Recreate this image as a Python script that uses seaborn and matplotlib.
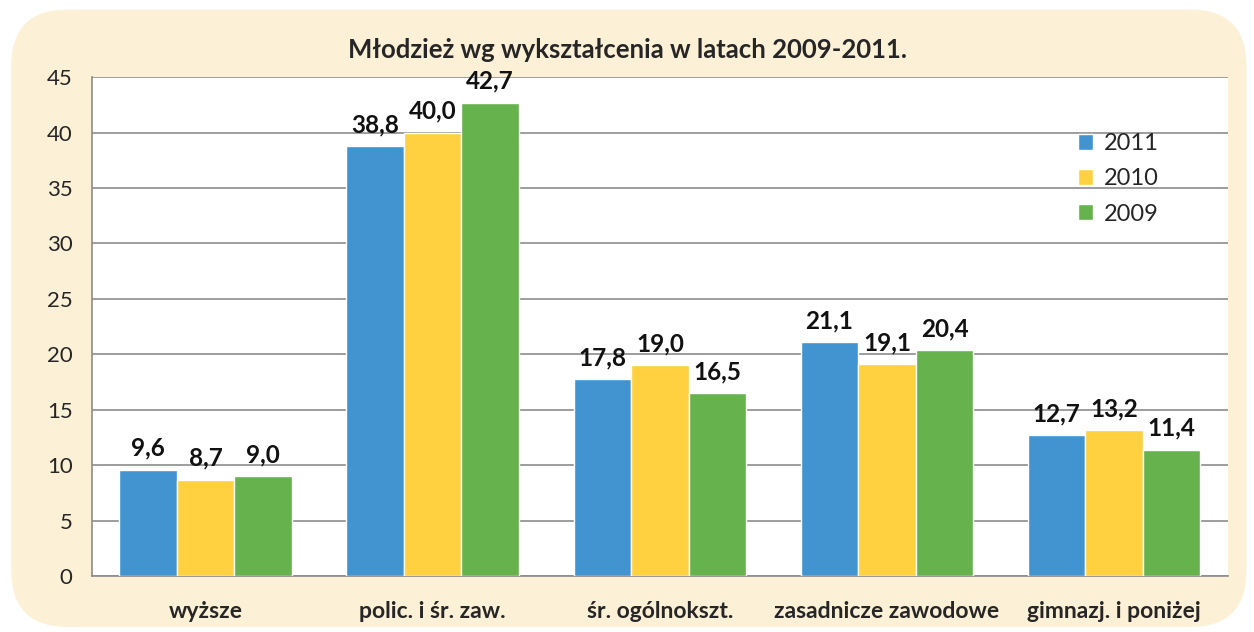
import numpy as np
import pandas as pd
import seaborn as sns
import matplotlib.pyplot as plt
from matplotlib.patches import FancyBboxPatch

kategorie = ['wyższe', 'polic. i śr. zaw.', 'śr. ogólnokszt.', 'zasadnicze zawodowe', 'gimnazj. i poniżej']
lata = ['2011', '2010', '2009']
w_2011 = [9.6, 38.8, 17.8, 21.1, 12.7]
w_2010 = [8.7, 40.0, 19.0, 19.1, 13.2]
w_2009 = [9.0, 42.7, 16.5, 20.4, 11.4]
kolory = ['#4194D0', '#FFD040', '#66B34E']

df = pd.DataFrame({
    'kategoria': kategorie * 3,
    'rok': [r for r in lata for _ in kategorie],
    'wartosc': w_2011 + w_2010 + w_2009,
})

sns.set_style('white')
plt.rcParams['font.family'] = ['Lato', 'DejaVu Sans']

fig = plt.figure(figsize=(12.54, 6.32), dpi=100)
fig.patch.set_facecolor('white')
# kremowe tlo z zaokraglonymi rogami
tlo = FancyBboxPatch((0.009, 0.008), 0.985, 0.977, boxstyle='round,pad=0,rounding_size=0.045',
                     transform=fig.transFigure, facecolor='#FCF1D6', edgecolor='none', zorder=-10,
                     mutation_aspect=1254 / 632)
fig.patches.append(tlo)

ax = fig.add_axes([0.0734, 0.0886, 0.9056, 0.7894])
ax.set_facecolor('white')
sns.barplot(data=df, x='kategoria', y='wartosc', hue='rok', hue_order=lata,
            palette=kolory, width=0.76, saturation=1, ax=ax, zorder=3)

for cont in ax.containers:
    ax.bar_label(cont, labels=[f'{v:.1f}'.replace('.', ',') for v in cont.datavalues],
                 padding=7, fontsize=17.5, fontweight='bold', color='#111111')

ax.set_ylim(0, 45)
ax.set_yticks(np.arange(0, 46, 5))
ax.set_xlim(-0.5, len(kategorie) - 0.5)
ax.yaxis.grid(True, color='#8C8C8C', linewidth=1.2, zorder=0)
ax.set_axisbelow(True)
for s in ['top', 'right']:
    ax.spines[s].set_visible(False)
for s in ['left', 'bottom']:
    ax.spines[s].set_color('#8C8C8C')
    ax.spines[s].set_linewidth(1.2)

ax.set_xticks(np.arange(len(kategorie)))
ax.set_xticklabels(kategorie, fontsize=16.5, fontweight='bold')
ax.set_xticks(np.arange(-0.5, len(kategorie)), minor=True)
ax.tick_params(axis='x', which='major', length=0, pad=18)
ax.tick_params(axis='x', which='minor', length=8, color='#8C8C8C', width=1.2)
ax.tick_params(axis='y', length=8, color='#8C8C8C', width=1.2, labelsize=16, pad=6)
ax.set_xlabel('')
ax.set_ylabel('')

leg = ax.legend(loc='upper right', bbox_to_anchor=(0.958, 0.93), frameon=False,
                fontsize=17, handlelength=0.65, handleheight=0.65, handletextpad=0.45,
                labelspacing=0.6)

fig.text(0.5, 0.921, 'Młodzież wg wykształcenia w latach 2009-2011.', ha='center', va='center',
         fontsize=18.5, fontweight='bold')

fig.savefig('out.png', dpi=100)
